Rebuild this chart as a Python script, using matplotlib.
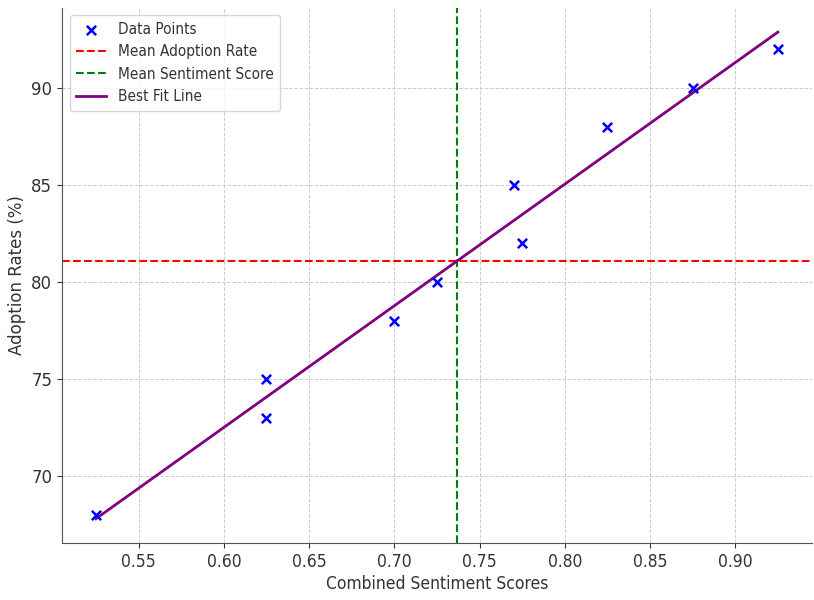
import numpy as np
import matplotlib
matplotlib.use("Agg")
import matplotlib.pyplot as plt

# values
sentiment = [0.525, 0.625, 0.625, 0.700, 0.725, 0.770, 0.775, 0.825, 0.875, 0.925]
adoption = [68, 75, 73, 78, 80, 85, 82, 88, 90, 92]

plt.rcParams['font.family'] = ['DejaVu Sans']
plt.rcParams['text.color'] = '#333333'
plt.rcParams['axes.labelcolor'] = '#333333'
plt.rcParams['xtick.color'] = '#333333'
plt.rcParams['ytick.color'] = '#333333'

x = np.array(sentiment)
y = np.array(adoption)
slope, intercept = np.polyfit(x, y, 1)

fig, ax = plt.subplots(figsize=(8.14, 6.0), dpi=100)
fig.subplots_adjust(left=0.076, right=0.9975, top=0.987, bottom=0.095)

ax.scatter(x, y, marker='x', color='blue', s=45, linewidths=1.8,
           label='Data Points', zorder=3)
ax.axhline(y.mean(), color='red', linestyle='--', linewidth=1.5,
           label='Mean Adoption Rate')
ax.axvline(x.mean(), color='green', linestyle='--', linewidth=1.5,
           label='Mean Sentiment Score')
ax.plot(x, slope * x + intercept, color='purple', linewidth=2,
        label='Best Fit Line')

ax.set_xlabel('Combined Sentiment Scores', fontsize=12.5, fontstretch='condensed',
              labelpad=3)
ax.set_ylabel('Adoption Rates (%)', fontsize=12, labelpad=4)
ax.set_yticks([70, 75, 80, 85, 90])
ax.tick_params(labelsize=12)
for lbl in ax.get_xticklabels():
    lbl.set_fontstretch('condensed')
    lbl.set_fontsize(12.5)
ax.grid(True, linestyle='--', color='#cccccc', linewidth=0.7)
ax.spines['top'].set_visible(False)
ax.spines['right'].set_visible(False)
ax.spines['left'].set_color('#555555')
ax.spines['bottom'].set_color('#555555')

leg = ax.legend(loc='upper left', prop={'size': 11, 'stretch': 'condensed'})
leg.get_frame().set_edgecolor('#cccccc')

plt.savefig('out.png')
